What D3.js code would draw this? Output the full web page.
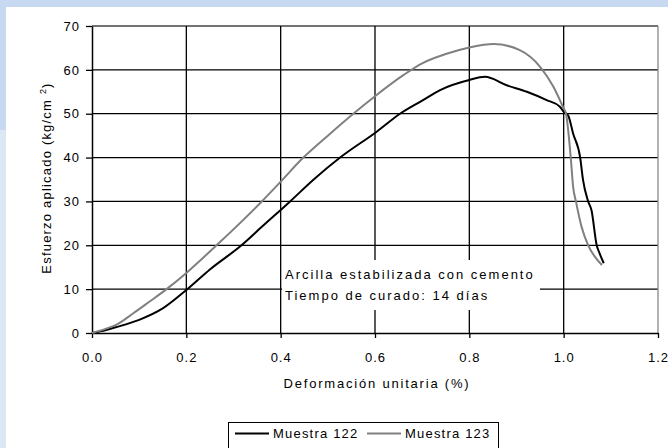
<!DOCTYPE html>
<html>
<head>
<meta charset="utf-8">
<script src="https://cdn.jsdelivr.net/npm/d3@7"></script>
<style>
body { margin: 0; background: white; }
svg { display: block; font-family: "Liberation Sans", Arial, sans-serif; }
</style>
</head>
<body>
<svg id="chart" width="668" height="448"></svg>
<script>
const WIDTH = 668, HEIGHT = 448;
const PLOT_LEFT = 92, PLOT_RIGHT = 658, PLOT_TOP = 26, PLOT_BOTTOM = 333;

// data
const xTicks = [0, 0.2, 0.4, 0.6, 0.8, 1.0, 1.2];
const yTicks = [0, 10, 20, 30, 40, 50, 60, 70];
const seriesNames = ["Muestra 122", "Muestra 123"];
const seriesColors = ["#000000", "#808080"];

const strain122 = [0, 0.03, 0.05, 0.1, 0.15, 0.2, 0.25, 0.317, 0.36, 0.42, 0.47, 0.526, 0.6036, 0.653, 0.7, 0.738, 0.8, 0.833, 0.879, 0.922, 0.964, 0.992, 1.0, 1.01, 1.02, 1.035, 1.041, 1.052, 1.059, 1.07, 1.076, 1.085];
const stress122 = [0, 0.7, 1.3, 3.0, 5.6, 9.8, 14.5, 20, 24.2, 30, 35, 40, 45.9, 50, 53, 55.4, 57.7, 58.4, 56.5, 55.0, 53.1, 51.6, 50.5, 49.5, 45.5, 40, 34.9, 30, 28, 20, 18.2, 15.9];

const strain123 = [0, 0.03, 0.05, 0.0876, 0.12, 0.158, 0.2, 0.264, 0.36, 0.4, 0.448, 0.5, 0.554, 0.6, 0.66, 0.7, 0.75, 0.8, 0.851, 0.907, 0.95, 0.978, 1.0, 1.005, 1.015, 1.02, 1.026, 1.038, 1.052, 1.066, 1.081];
const stress123 = [0, 1.0, 1.8, 4.5, 7.0, 10, 13.7, 20, 30, 34.5, 40, 45, 50, 54, 58.8, 61.5, 63.6, 65.1, 65.9, 64.5, 60.7, 56.2, 51.2, 50, 40, 33.4, 30, 24.2, 20, 17.4, 15.5];

const noteLines = ["Arcilla estabilizada con cemento", "Tiempo de curado: 14 días"];

let x = d3.scaleLinear().domain([0, 1.2]).range([PLOT_LEFT, PLOT_RIGHT]);
let y = d3.scaleLinear().domain([0, 70]).range([PLOT_BOTTOM, PLOT_TOP]);

let svg = d3.select("svg#chart");

// page background strips
svg.append("rect").attr("width", WIDTH).attr("height", HEIGHT).attr("fill", "white");
svg.append("rect").attr("x", 0).attr("y", 0).attr("width", WIDTH).attr("height", 7).attr("fill", "#c6d9f0");
svg.append("rect").attr("x", 0).attr("y", 0).attr("width", 6).attr("height", 130).attr("fill", "#c6d9f0");
svg.append("rect").attr("x", 0).attr("y", 130).attr("width", 6).attr("height", HEIGHT - 130).attr("fill", "#dbe7f4");

// grid
svg.append("g")
	.selectAll("line")
	.data(yTicks.slice(1))
	.join("line")
	.attr("x1", PLOT_LEFT)
	.attr("x2", PLOT_RIGHT)
	.attr("y1", d => y(d))
	.attr("y2", d => y(d))
	.attr("stroke", d => d === 70 ? "#444" : "black")
	.attr("stroke-width", 1.3)
	;
svg.append("g")
	.selectAll("line")
	.data(xTicks.slice(1))
	.join("line")
	.attr("x1", d => x(d))
	.attr("x2", d => x(d))
	.attr("y1", PLOT_TOP)
	.attr("y2", PLOT_BOTTOM)
	.attr("stroke", d => d === 1.2 ? "#888" : "black")
	.attr("stroke-width", 1.3)
	;

// axes
let yAxis = svg.append("g")
	.attr("transform", `translate(${PLOT_LEFT},0)`)
	.call(d3.axisLeft(y).tickValues(yTicks).tickFormat(d3.format("d")).tickSize(6).tickSizeOuter(0).tickPadding(6))
	;
let xAxis = svg.append("g")
	.attr("transform", `translate(0,${PLOT_BOTTOM})`)
	.call(d3.axisBottom(x).tickValues(xTicks).tickFormat(d3.format(".1f")).tickSize(5).tickSizeOuter(0).tickPadding(15))
	;
[xAxis, yAxis].forEach(a => {
	a.select(".domain").attr("stroke", "black").attr("stroke-width", 1.5);
	a.selectAll(".tick line").attr("stroke", "black").attr("stroke-width", 1.3);
	a.selectAll(".tick text")
		.attr("fill", "black")
		.style("font-size", "13px")
		.style("letter-spacing", "1px")
		.style("font-family", "\"Liberation Sans\", Arial, sans-serif")
		;
	a.attr("font-family", null);
});

// curves
let line = d3.line().x(d => x(d[0])).y(d => y(d[1])).curve(d3.curveMonotoneX);
let curves = [d3.zip(strain122, stress122), d3.zip(strain123, stress123)];
svg.append("g")
	.selectAll("path")
	.data(curves)
	.join("path")
	.attr("d", line)
	.attr("fill", "none")
	.attr("stroke", (d, i) => seriesColors[i])
	.attr("stroke-width", 2)
	.attr("stroke-linejoin", "round")
	;

// note box
svg.append("rect")
	.attr("x", 282)
	.attr("y", 260)
	.attr("width", 258)
	.attr("height", 50)
	.attr("fill", "white")
	;
svg.append("g")
	.selectAll("text")
	.data(noteLines)
	.join("text")
	.text(d => d)
	.attr("x", 285)
	.attr("y", (d, i) => 279 + i * 21)
	.style("font-size", "13px")
	.style("letter-spacing", "2px")
	;

// axis titles
svg.append("text")
	.text("Deformación unitaria (%)")
	.attr("x", 377)
	.attr("y", 388)
	.attr("text-anchor", "middle")
	.style("font-size", "13px")
	.style("letter-spacing", "1.8px")
	;
let yTitle = svg.append("text")
	.attr("transform", "translate(51,178) rotate(-90)")
	.attr("text-anchor", "middle")
	.style("font-size", "13px")
	.style("letter-spacing", "1.2px")
	;
yTitle.append("tspan").text("Esfuerzo aplicado (kg/cm ");
yTitle.append("tspan").text("2").attr("dy", -5).style("font-size", "9px");
yTitle.append("tspan").text(")").attr("dy", 5);

// legend
let legend = svg.append("g");
legend.append("rect")
	.attr("x", 228.5)
	.attr("y", 422.5)
	.attr("width", 270)
	.attr("height", 40)
	.attr("fill", "white")
	.attr("stroke", "black")
	;
let legendX = [235, 367];
seriesNames.forEach((name, i) => {
	legend.append("line")
		.attr("x1", legendX[i])
		.attr("x2", legendX[i] + 34)
		.attr("y1", 433.5)
		.attr("y2", 433.5)
		.attr("stroke", seriesColors[i])
		.attr("stroke-width", 2)
		;
	legend.append("text")
		.text(name)
		.attr("x", legendX[i] + 38)
		.attr("y", 437.5)
		.style("font-size", "13px")
		.style("letter-spacing", "1.2px")
		;
});
</script>
</body>
</html>
